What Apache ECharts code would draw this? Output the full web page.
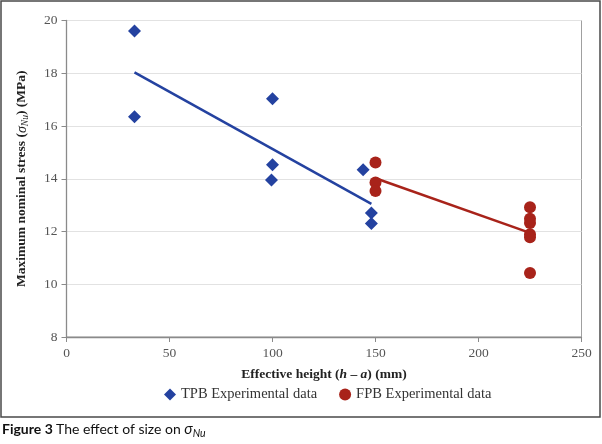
<!DOCTYPE html>
<html><head><meta charset="utf-8">
<script src="https://cdn.jsdelivr.net/npm/echarts@6/dist/echarts.min.js"></script>
<style>html,body{margin:0;padding:0;background:#fff}#c{width:602px;height:444px}</style>
</head><body><div id="c"></div>
<script>
// TPB experimental data (effective height mm, stress MPa)
const tpbX = [33, 33, 100, 100, 99.5, 144, 148, 148];
const tpbY = [19.6, 16.35, 17.03, 14.53, 13.95, 14.34, 12.7, 12.3];
// FPB experimental data
const fpbX = [150, 150, 150, 225, 225, 225, 225, 225, 225];
const fpbY = [14.62, 13.86, 13.54, 12.92, 12.48, 12.32, 11.9, 11.78, 10.43];
// trend line endpoints
const tpbTrendX = [33, 148];
const tpbTrendY = [18.03, 13.05];
const fpbTrendX = [150, 225];
const fpbTrendY = [14.02, 11.95];
const xTicks = [0, 50, 100, 150, 200, 250];
const yTicks = [8, 10, 12, 14, 16, 18, 20];

const BLUE = '#2442A0', RED = '#A8231A';
const SERIF = '"Liberation Serif", "DejaVu Serif", serif';
const SANS = 'Lato, "Noto Sans", sans-serif';
const pair = (xs, ys) => xs.map((x, i) => [x, ys[i]]);

const chart = echarts.init(document.getElementById('c'), null, {renderer: 'canvas'});
chart.setOption({
  animation: false,
  backgroundColor: '#fff',
  textStyle: {fontFamily: SERIF},
  grid: {left: 66.5, top: 20.5, right: 20.5, bottom: 107, show: true, borderColor: '#a0a0a0', borderWidth: 1, backgroundColor: 'transparent'},
  xAxis: {
    type: 'value', min: xTicks[0], max: xTicks[xTicks.length - 1], interval: 50,
    axisLine: {show: true, lineStyle: {color: '#8a8a8a', width: 1.3}},
    axisTick: {show: true, length: 5, lineStyle: {color: '#8a8a8a'}},
    splitLine: {show: false},
    axisLabel: {color: '#555', fontSize: 13.5, fontFamily: SERIF, margin: 9},
    name: '{b|Effective height (}{i|h}{b| – }{i|a}{b|) (mm)}',
    nameLocation: 'middle', nameGap: 31,
    nameTextStyle: {rich: {
      b: {fontFamily: SERIF, fontWeight: 'bold', fontSize: 13.5, color: '#222'},
      i: {fontFamily: SERIF, fontWeight: 'bold', fontStyle: 'italic', fontSize: 13.5, color: '#222'}
    }}
  },
  yAxis: {
    type: 'value', min: yTicks[0], max: yTicks[yTicks.length - 1], interval: 2,
    axisLine: {show: true, lineStyle: {color: '#8a8a8a', width: 1.3}},
    axisTick: {show: true, length: 5, lineStyle: {color: '#8a8a8a'}},
    splitLine: {show: true, lineStyle: {color: '#e2e2e2', width: 1}},
    axisLabel: {color: '#555', fontSize: 13.5, fontFamily: SERIF, margin: 9},
    name: '{b|Maximum nominal stress (}{i|σ}{s|Nu}{b|) (MPa)}',
    nameLocation: 'middle', nameGap: 36, nameRotate: 90,
    nameTextStyle: {rich: {
      b: {fontFamily: SERIF, fontWeight: 'bold', fontSize: 13.5, color: '#222'},
      i: {fontFamily: SERIF, fontStyle: 'italic', fontSize: 14, color: '#222'},
      s: {fontFamily: SERIF, fontStyle: 'italic', fontSize: 9.5, color: '#222', padding: [7, 0, 0, 0]}
    }}
  },
  legend: {
    left: 159, top: 382, itemGap: 22, itemWidth: 12, itemHeight: 12,
    textStyle: {fontFamily: SERIF, fontSize: 14.5, color: '#333'},
    data: [
      {name: 'TPB Experimental data', icon: 'diamond'},
      {name: 'FPB Experimental data', icon: 'circle'}
    ]
  },
  series: [
    {name: 'TPB trend', type: 'line', data: pair(tpbTrendX, tpbTrendY), symbol: 'none',
     lineStyle: {color: BLUE, width: 2.5}, z: 2, silent: true},
    {name: 'FPB trend', type: 'line', data: pair(fpbTrendX, fpbTrendY), symbol: 'none',
     lineStyle: {color: RED, width: 2.5}, z: 2, silent: true},
    {name: 'TPB Experimental data', type: 'scatter', data: pair(tpbX, tpbY), symbol: 'diamond',
     symbolSize: [13, 13], itemStyle: {color: BLUE, opacity: 1}, z: 3},
    {name: 'FPB Experimental data', type: 'scatter', data: pair(fpbX, fpbY), symbol: 'circle',
     symbolSize: 12, itemStyle: {color: RED, opacity: 1}, z: 3}
  ],
  graphic: [
    {type: 'rect', shape: {x: 1, y: 1, width: 599, height: 416}, style: {fill: 'none', stroke: '#4a4a4a', lineWidth: 1.5}, silent: true},
    {type: 'text', left: 2, top: 422, style: {
      text: '{b|Figure 3} {n|The effect of size on }{i|σ}{s|Nu}',
      rich: {
        b: {fontFamily: SANS, fontWeight: 'bold', fontSize: 14, fill: '#111'},
        n: {fontFamily: SANS, fontSize: 14, fill: '#111'},
        i: {fontFamily: SANS, fontStyle: 'italic', fontSize: 15, fill: '#111'},
        s: {fontFamily: SANS, fontStyle: 'italic', fontSize: 10.5, fill: '#111', padding: [8, 0, 0, 0]}
      }
    }}
  ]
});
</script></body></html>
